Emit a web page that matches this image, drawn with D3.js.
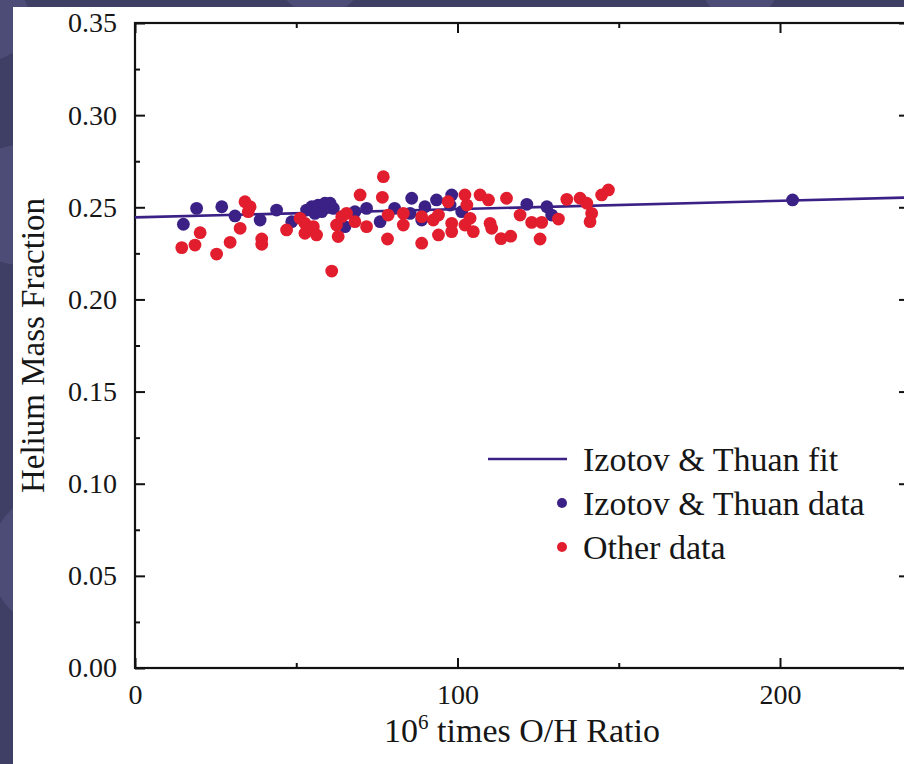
<!DOCTYPE html>
<html>
<head>
<meta charset="utf-8">
<script src="https://cdn.jsdelivr.net/npm/d3@7"></script>
<style>
  body { margin: 0; padding: 0; overflow: hidden; }
  text { font-family: "Liberation Serif", "DejaVu Serif", serif; fill: #161616; }
</style>
</head>
<body>
<div id="chart"></div>
<script>
// Izotov & Thuan data points (10^6 O/H, helium mass fraction)
const itX = [15.0, 19.1, 26.9, 31.0, 38.8, 43.9, 48.6, 53.2, 54.8, 55.8, 56.8, 57.9, 58.9, 60.5, 61.5, 65.1,
  68.2, 71.8, 76.0, 80.5, 85.3, 85.8, 88.9, 89.9, 93.5, 97.7, 98.2, 101.3, 121.5, 127.7, 129.2, 203.9];
const itY = [0.2408, 0.2494, 0.2503, 0.2453, 0.2431, 0.2485, 0.2422, 0.2485, 0.2503, 0.2467, 0.2512, 0.2476,
  0.2522, 0.2522, 0.2494, 0.2395, 0.2476, 0.2494, 0.2422, 0.2494, 0.2467, 0.2549, 0.2431, 0.2503, 0.2540,
  0.2512, 0.2567, 0.2476, 0.2516, 0.2503, 0.2458, 0.2540];

// Other data points
const otherX = [14.5, 18.6, 20.2, 25.3, 29.5, 32.6, 34.1, 35.7, 35.1, 39.3, 39.3, 47.0, 51.2, 52.7, 52.7, 55.3,
  56.3, 62.5, 63.0, 64.1, 65.6, 68.2, 69.8, 71.8, 77.0, 76.7, 78.5, 78.3, 61.0, 83.2, 83.2, 88.9, 88.9, 92.5,
  94.1, 94.1, 97.1, 98.2, 98.2, 102.3, 102.9, 103.9, 102.3, 104.9, 107.0, 109.6, 110.1, 110.6, 113.5, 116.5,
  115.2, 119.4, 123.0, 126.1, 125.6, 131.3, 133.9, 138.0, 140.1, 141.6, 141.1, 144.7, 146.8];
const otherY = [0.2281, 0.2295, 0.2362, 0.2246, 0.2310, 0.2386, 0.2530, 0.2503, 0.2476, 0.2328, 0.2299, 0.2377,
  0.2440, 0.2413, 0.2359, 0.2395, 0.2350, 0.2404, 0.2341, 0.2449, 0.2467, 0.2422, 0.2567, 0.2395, 0.2666,
  0.2554, 0.2458, 0.2328, 0.2154, 0.2467, 0.2404, 0.2449, 0.2305, 0.2431, 0.2458, 0.2350, 0.2530, 0.2413,
  0.2368, 0.2567, 0.2512, 0.2440, 0.2404, 0.2368, 0.2567, 0.2540, 0.2413, 0.2386, 0.2330, 0.2343, 0.2549,
  0.2458, 0.2418, 0.2418, 0.2328, 0.2436, 0.2543, 0.2549, 0.2522, 0.2467, 0.2422, 0.2567, 0.2594];

// Fit line end points
const fitX = [0, 240];
const fitY = [0.2445, 0.2553];

// Tick values
const xMajor = [0, 100, 200];
const xMinor = [50, 150];
const yMajor = [0, 0.05, 0.10, 0.15, 0.20, 0.25, 0.30, 0.35];
const yMinor = [0.025, 0.075, 0.125, 0.175, 0.225, 0.275, 0.325];

const legendItems = ["Izotov & Thuan fit", "Izotov & Thuan data", "Other data"];

const blue = "#3b2186";
const red = "#e11d2e";

let dims = { width: 904, height: 764, left: 135, right: 909, top: 23, bottom: 668 };

const svg = d3.select("#chart").append("svg")
  .attr("width", dims.width)
  .attr("height", dims.height);

// slide background
svg.append("rect").attr("width", dims.width).attr("height", dims.height).attr("fill", "#3f3f65");
const swirls = [[20, 205, 60], [320, -30, 45], [740, -20, 40], [-10, 20, 40], [60, 560, 70]];
svg.selectAll(".swirl").data(swirls).enter().append("circle")
  .attr("cx", d => d[0]).attr("cy", d => d[1]).attr("r", d => d[2])
  .attr("fill", "#6a6aa0").attr("opacity", 0.3);

// white panel
svg.append("rect").attr("x", 13).attr("y", 7).attr("width", dims.width - 13).attr("height", dims.height - 7)
  .attr("fill", "#ffffff");

const x = d3.scaleLinear().domain([0, 240]).range([dims.left, dims.right]);
const y = d3.scaleLinear().domain([0, 0.35]).range([dims.bottom, dims.top]);

// axes - ticks pointing inward on all four sides
function styleAxis(g) {
  g.select(".domain").remove();
  g.selectAll(".tick line").attr("stroke", "#111").attr("stroke-width", 2);
  g.selectAll(".tick text").style("font-size", "28px").attr("fill", "#161616");
}

svg.append("g").attr("transform", `translate(0,${dims.bottom})`)
  .call(d3.axisBottom(x).tickValues(xMajor).tickSize(-10).tickPadding(16).tickFormat(d3.format("d")))
  .call(styleAxis);
svg.append("g").attr("transform", `translate(0,${dims.bottom})`)
  .call(d3.axisBottom(x).tickValues(xMinor).tickSize(-5).tickFormat(""))
  .call(styleAxis);
svg.append("g").attr("transform", `translate(0,${dims.top})`)
  .call(d3.axisTop(x).tickValues(xMajor).tickSize(-10).tickFormat(""))
  .call(styleAxis);
svg.append("g").attr("transform", `translate(0,${dims.top})`)
  .call(d3.axisTop(x).tickValues(xMinor).tickSize(-5).tickFormat(""))
  .call(styleAxis);

svg.append("g").attr("transform", `translate(${dims.left},0)`)
  .call(d3.axisLeft(y).tickValues(yMajor).tickSize(-10).tickPadding(18).tickFormat(d3.format(".2f")))
  .call(styleAxis);
svg.append("g").attr("transform", `translate(${dims.left},0)`)
  .call(d3.axisLeft(y).tickValues(yMinor).tickSize(-5).tickFormat(""))
  .call(styleAxis);
svg.append("g").attr("transform", `translate(${dims.right},0)`)
  .call(d3.axisRight(y).tickValues(yMajor).tickSize(-10).tickFormat(""))
  .call(styleAxis);
svg.append("g").attr("transform", `translate(${dims.right},0)`)
  .call(d3.axisRight(y).tickValues(yMinor).tickSize(-5).tickFormat(""))
  .call(styleAxis);

// frame
svg.append("rect")
  .attr("x", dims.left).attr("y", dims.top)
  .attr("width", dims.right - dims.left).attr("height", dims.bottom - dims.top)
  .attr("fill", "none").attr("stroke", "#111").attr("stroke-width", 2.2);

// fit line
const fitData = fitX.map((v, i) => ({ x: v, y: fitY[i] }));
svg.append("path").datum(fitData)
  .attr("d", d3.line().x(d => x(d.x)).y(d => y(d.y)))
  .attr("fill", "none").attr("stroke", blue).attr("stroke-width", 2.6);

// dots
const itData = itX.map((v, i) => ({ x: v, y: itY[i] }));
const otherData = otherX.map((v, i) => ({ x: v, y: otherY[i] }));

svg.append("g").selectAll("circle").data(itData).enter().append("circle")
  .attr("cx", d => x(d.x)).attr("cy", d => y(d.y)).attr("r", 6.4).attr("fill", blue);
svg.append("g").selectAll("circle").data(otherData).enter().append("circle")
  .attr("cx", d => x(d.x)).attr("cy", d => y(d.y)).attr("r", 6.4).attr("fill", red);

// axis titles
svg.append("text")
  .attr("transform", `translate(44,${(dims.top + dims.bottom) / 2}) rotate(-90)`)
  .attr("text-anchor", "middle")
  .style("font-size", "33px")
  .text("Helium Mass Fraction");

const xTitle = svg.append("text")
  .attr("x", (dims.left + dims.right) / 2).attr("y", 742)
  .attr("text-anchor", "middle")
  .style("font-size", "34px");
xTitle.append("tspan").text("10");
xTitle.append("tspan").attr("dy", -13).style("font-size", "21px").text("6");
xTitle.append("tspan").attr("dy", 13).text(" times O/H Ratio");

// legend
const legend = svg.append("g").attr("transform", "translate(583,0)");
const legendY = [459, 503, 547];
legend.append("line").attr("x1", -95).attr("x2", -16).attr("y1", legendY[0]).attr("y2", legendY[0])
  .attr("stroke", blue).attr("stroke-width", 2.6);
legend.append("circle").attr("cx", -21).attr("cy", legendY[1]).attr("r", 5).attr("fill", blue);
legend.append("circle").attr("cx", -21).attr("cy", legendY[2]).attr("r", 5).attr("fill", red);
legend.selectAll(".legend-text").data(legendItems).enter().append("text")
  .attr("class", "legend-text")
  .attr("x", 0).attr("y", (d, i) => legendY[i] + 12)
  .style("font-size", "34px")
  .text(d => d);
</script>
</body>
</html>
